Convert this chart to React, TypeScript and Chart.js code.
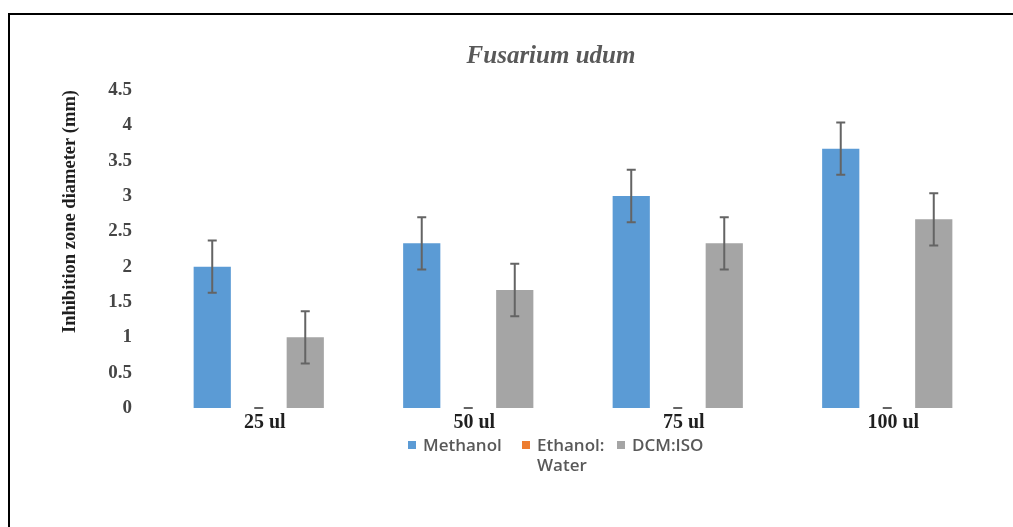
import React, { useEffect, useRef } from "react";
import { Chart, registerables } from "chart.js";

Chart.register(...registerables);

const chartTitle = "Fusarium udum";
const yAxisTitle = "Inhibition zone diameter (mm)";
const categories = ["25 ul", "50 ul", "75 ul", "100 ul"];
const seriesNames = ["Methanol", "Ethanol: Water", "DCM:ISO"];
const seriesColors = ["#5B9BD5", "#ED7D31", "#A5A5A5"];
const methanol = [2, 2.33, 3, 3.67];
const ethanolWater = [0, 0, 0, 0];
const dcmIso = [1, 1.67, 2.33, 2.67];
const methanolErr = [0.37, 0.37, 0.37, 0.37];
const ethanolWaterErr = [0, 0, 0, 0];
const dcmIsoErr = [0.37, 0.37, 0.37, 0.37];
const yTickValues = [0, 0.5, 1, 1.5, 2, 2.5, 3, 3.5, 4, 4.5];

const seriesValues = [methanol, ethanolWater, dcmIso];
const seriesErrors = [methanolErr, ethanolWaterErr, dcmIsoErr];

const errorBarsPlugin = {
  id: "errorBars",
  afterDatasetsDraw(chart: any) {
    const ctx = chart.ctx;
    const yScale = chart.scales.y;
    chart.data.datasets.forEach((ds: any, i: number) => {
      const meta = chart.getDatasetMeta(i);
      const errs = ds.errors as number[];
      meta.data.forEach((bar: any, j: number) => {
        const v = ds.data[j] as number;
        const e = errs[j];
        const x = bar.x;
        const top = yScale.getPixelForValue(v + e);
        const bot = yScale.getPixelForValue(Math.max(0, v - e));
        const cap = 4.5;
        ctx.save();
        ctx.strokeStyle = "#646464";
        ctx.lineWidth = 2;
        ctx.beginPath();
        ctx.moveTo(x, top);
        ctx.lineTo(x, bot);
        ctx.moveTo(x - cap, top);
        ctx.lineTo(x + cap, top);
        ctx.moveTo(x - cap, bot);
        ctx.lineTo(x + cap, bot);
        ctx.stroke();
        ctx.restore();
      });
    });
  },
};

const legendLefts = [408, 522, 617];
const legendTextMax = [95, 74, 120];

export default function App() {
  const canvasRef = useRef<HTMLCanvasElement | null>(null);

  useEffect(() => {
    const canvas = canvasRef.current;
    if (!canvas) return;
    const chart = new Chart(canvas, {
      type: "bar",
      data: {
        labels: categories,
        datasets: seriesNames.map((name, i) => ({
          label: name,
          data: seriesValues[i],
          errors: seriesErrors[i],
          backgroundColor: seriesColors[i],
          borderWidth: 0,
          categoryPercentage: 0.666,
          barPercentage: 0.8,
        })) as any,
      },
      options: {
        responsive: false,
        animation: false,
        layout: { padding: { left: 0, right: 21, top: 75, bottom: 79 } },
        plugins: {
          legend: { display: false },
          tooltip: { enabled: false },
          title: { display: false },
        },
        scales: {
          x: {
            grid: { display: false, drawTicks: false },
            border: { display: false },
            ticks: {
              color: "#1f1f1f",
              font: { family: "Liberation Serif", size: 20, weight: "bold" },
              padding: 3,
              labelOffset: 6,
              maxRotation: 0,
            },
            afterFit(scale: any) {
              scale.height = 40;
            },
          },
          y: {
            min: 0,
            max: 4.5,
            grid: { display: false, drawTicks: false },
            border: { display: false },
            ticks: {
              color: "#454545",
              font: { family: "Liberation Serif", size: 19, weight: "bold" },
              padding: 22,
              callback: (v: any) => String(v),
            },
            afterBuildTicks(scale: any) {
              scale.ticks = yTickValues.map((v) => ({ value: v }));
            },
            afterFit(scale: any) {
              scale.width = 144;
            },
            title: {
              display: true,
              text: yAxisTitle,
              align: "end",
              color: "#1f1f1f",
              font: { family: "Liberation Serif", size: 18.5, weight: "bold" },
              padding: { top: 48.9, bottom: 0 },
            },
          },
        },
      } as any,
      plugins: [errorBarsPlugin],
    });
    return () => chart.destroy();
  }, []);

  return (
    <div>
      <div
        style={{
          position: "absolute",
          left: 8,
          top: 13,
          width: 1003,
          height: 512,
          borderTop: "2px solid #000",
          borderLeft: "2px solid #000",
          overflow: "hidden",
          background: "#fff",
        }}
      >
        <canvas
          ref={canvasRef}
          width={1003}
          height={512}
          style={{ display: "block", width: 1003, height: 512 }}
        />
      </div>
      <div
        style={{
          position: "absolute",
          left: 0,
          top: 40,
          width: 1102,
          textAlign: "center",
          fontFamily: "'Liberation Serif', serif",
          fontStyle: "italic",
          fontWeight: "bold",
          fontSize: 25,
          lineHeight: "30px",
          color: "#595959",
        }}
      >
        {chartTitle}
      </div>
      {seriesNames.map((name, i) => (
        <div
          key={name}
          style={{
            position: "absolute",
            left: legendLefts[i],
            top: 435,
            display: "flex",
            alignItems: "flex-start",
            fontFamily: "'Open Sans', sans-serif",
            fontWeight: 600,
            fontSize: 17,
            lineHeight: "20px",
            color: "#595959",
          }}
        >
          <span
            style={{
              display: "inline-block",
              width: 8,
              height: 8,
              marginTop: 6,
              marginRight: 7,
              background: seriesColors[i],
              flex: "none",
            }}
          />
          <span style={{ maxWidth: legendTextMax[i], textAlign: "left" }}>{name}</span>
        </div>
      ))}
    </div>
  );
}
